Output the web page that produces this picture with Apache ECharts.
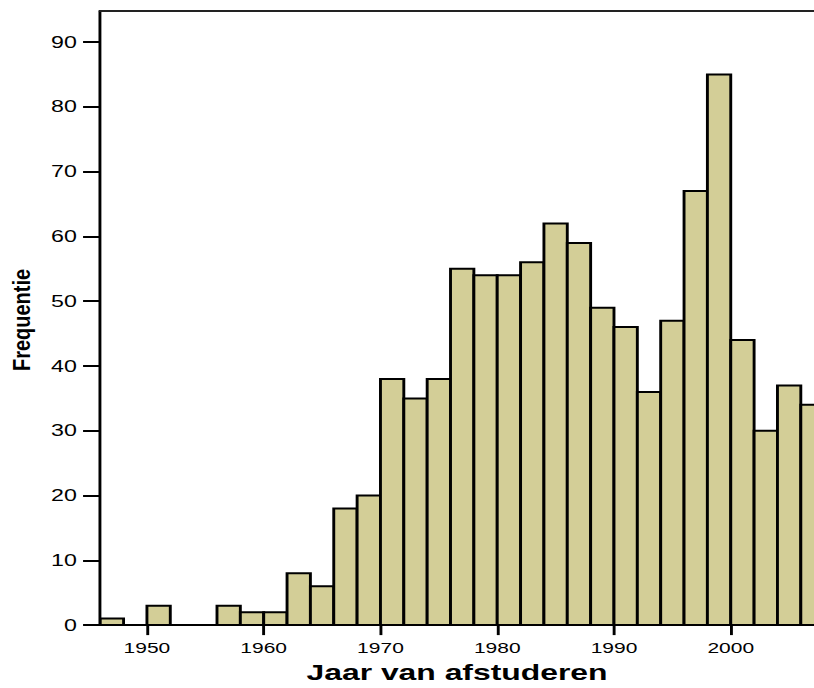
<!DOCTYPE html>
<html><head><meta charset="utf-8">
<script src="https://cdn.jsdelivr.net/npm/echarts@6/dist/echarts.min.js"></script>
<style>
html,body{margin:0;padding:0;background:#fff;overflow:hidden}
#wrap{width:814px;height:688px;overflow:hidden;position:relative;background:#fff}
#chart{width:562px;height:688px;transform:scaleX(1.448398576);transform-origin:0 0;position:absolute;left:0;top:0}
</style></head>
<body><div id="wrap"><div id="chart"></div></div>
<script>
// ---- data (2-year bins) ----
const binStarts = [1946,1948,1950,1952,1954,1956,1958,1960,1962,1964,1966,1968,1970,1972,1974,1976,1978,1980,1982,1984,1986,1988,1990,1992,1994,1996,1998,2000,2002,2004,2006];
const counts    = [1,0,3,0,0,3,2,2,8,6,18,20,38,35,38,55,54,54,56,62,59,49,46,36,47,67,85,44,30,37,34];
const binWidth = 2;
const xTickValues = [1950,1960,1970,1980,1990,2000];
const yTickValues = [0,10,20,30,40,50,60,70,80,90];
const xTitle = 'Jaar van afstuderen';
const yTitle = 'Frequentie';

const SX = 814 / 562; // horizontal stretch of the original rendering
const FONT = '"Liberation Sans", Arial, Helvetica, sans-serif';
const BAR_FILL = '#d3ce97';

const chart = echarts.init(document.getElementById('chart'), null, {renderer: 'svg', width: 562, height: 688});

const histData = binStarts.map((b, i) => [b, b + binWidth, counts[i]]);

chart.setOption({
  animation: false,
  backgroundColor: '#fff',
  grid: {left: 100 / SX, right: 0, top: 11, bottom: 59, containLabel: false},
  xAxis: [{
    type: 'value', min: 1945.98, max: 2007.13, position: 'bottom',
    axisLine: {show: true, onZero: false, lineStyle: {color: '#000', width: 2}},
    axisTick: {show: true, customValues: xTickValues, length: 10, lineStyle: {color: '#000', width: 2}},
    axisLabel: {show: true, customValues: xTickValues, formatter: v => String(v),
      fontFamily: FONT, fontSize: 14.5, color: '#000', margin: 16},
    splitLine: {show: false},
    name: xTitle, nameLocation: 'middle', nameGap: 35,
    nameTextStyle: {fontFamily: FONT, fontSize: 22, fontWeight: 'bold', color: '#000'}
  }, {
    type: 'value', min: 1945.98, max: 2007.13, position: 'top',
    axisLine: {show: true, onZero: false, lineStyle: {color: '#222', width: 2}},
    axisTick: {show: false}, axisLabel: {show: false}, splitLine: {show: false}
  }],
  yAxis: {
    type: 'value', min: 0, max: 94.8,
    axisLine: {show: true, lineStyle: {color: '#000', width: 2}},
    axisTick: {show: true, customValues: yTickValues, length: 11.7, lineStyle: {color: '#000', width: 2}},
    axisLabel: {show: true, customValues: yTickValues, formatter: v => String(v),
      fontFamily: FONT, fontSize: 16, color: '#000', margin: 16},
    splitLine: {show: false}
  },
  graphic: [{
    type: 'text',
    x: 22 / SX, y: 320,
    rotation: Math.PI / 2,
    scaleY: 0.8,
    style: {
      text: yTitle, fill: '#000',
      font: 'bold 20px ' + FONT,
      align: 'center', verticalAlign: 'middle'
    }
  }],
  series: [{
    type: 'custom',
    clip: true,
    xAxisIndex: 0,
    encode: {x: [0, 1], y: 2},
    data: histData,
    renderItem: function (params, api) {
      const v = api.value(2);
      if (!v) return null;
      const p0 = api.coord([api.value(0), 0]);
      const p1 = api.coord([api.value(1), v]);
      return {
        type: 'rect',
        shape: {x: p0[0], y: p1[1], width: p1[0] - p0[0], height: p0[1] - p1[1]},
        style: {fill: BAR_FILL, stroke: '#000', lineWidth: 2}
      };
    }
  }]
});
</script>
</body></html>
